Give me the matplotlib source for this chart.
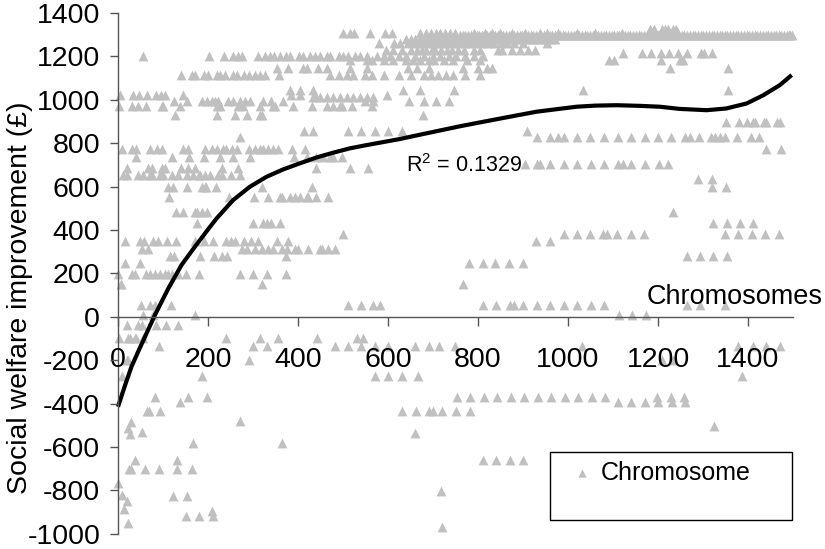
import matplotlib
matplotlib.use('Agg')
import matplotlib.pyplot as plt
from matplotlib.patches import Rectangle

plt.rcParams['font.family'] = ['Liberation Sans', 'DejaVu Sans']
plt.rcParams['mathtext.fontset'] = 'custom'
plt.rcParams['mathtext.rm'] = 'Liberation Sans'
plt.rcParams['mathtext.default'] = 'regular'
plt.rcParams['axes.unicode_minus'] = False

# [1] Chromosome rows: x values that sit on about the same y
x_1300 = [760, 766, 772, 778, 785, 790, 797, 803, 808, 815, 821, 827, 833, 838, 845, 851, 856, 862, 869, 875,
          880, 887, 893, 898, 905, 911, 917, 922, 929, 935, 941, 946, 953, 959, 965, 970, 977, 983, 989, 994,
          1001, 1007, 1013, 1018, 1025, 1031, 1037, 1042, 1049, 1055, 1061, 1066, 1073, 1079, 1085, 1090, 1097,
          1103, 1109, 1114, 1121, 1127, 1133, 1138, 1145, 1151, 1157, 1162, 1169, 1175, 1181, 1186, 1193, 1199,
          1205, 1210, 1217, 1223, 1229, 1234, 1241, 1247, 1253, 1258, 1265, 1271, 1277, 1282, 1289, 1295, 1301,
          1306, 1313, 1319, 1325, 1330, 1337, 1343, 1349, 1354, 1361, 1367, 1373, 1378, 1385, 1391, 1397, 1402,
          1409, 1415, 1421, 1426, 1433, 1439, 1445, 1450, 1457, 1463, 1469, 1474, 1481, 1486, 1490, 1494, 1497]
x_1310 = [849, 875, 904, 938, 953, 978, 672, 684, 695, 706, 716, 727, 738, 749, 790, 815, 831, 1020, 1060, 1120]
x_1330 = [1190, 1208, 1223, 1234, 1240, 1215, 1183]
x_1306 = [501, 516, 524, 561, 593, 608]
x_1280 = [640, 652, 660, 672, 680, 688, 694, 703, 712, 720, 729, 737, 746, 754, 763, 771, 779, 788, 796, 804,
          813, 821, 830, 838, 846, 855, 863, 872, 880, 889, 897, 906, 914, 923, 931, 940, 948, 956, 964, 972]
x_1260 = [579, 614, 627, 645, 655, 668, 676, 686, 699, 708, 720, 731, 744, 757, 770, 782, 795, 808, 822, 836, 850, 864, 880, 900, 953]
x_1230 = [596, 612, 630, 650, 664, 675, 684, 697, 705, 718, 730, 742, 756, 768, 790, 805, 845, 853, 875, 893, 912, 927]
x_1200 = [55, 202, 235, 256, 266, 276, 310, 327, 338, 347, 360, 373, 382, 403, 412, 427, 438, 449, 464, 471, 490, 501,
          512, 527, 538, 553, 575, 590, 604, 625, 640, 660, 680, 700, 715, 735, 752, 770, 790, 810]
x_1185 = [515, 553, 565, 590, 610, 640, 655, 672, 690, 702, 725, 745, 775, 804, 1091, 1102, 1207, 1249, 1256]
x_1145 = [353, 378, 412, 419, 445, 464, 515, 553, 645, 665, 690, 767, 801, 819, 830, 1227, 1356]
x_1113 = [141, 164, 170, 190, 199, 219, 227, 238, 256, 265, 280, 290, 304, 316, 327, 358, 471, 490, 508, 523, 549, 564,
          590, 625, 650, 680, 695, 712, 728, 745, 771, 804]
x_1217 = [1123, 1165, 1184, 1207, 1225, 1245, 1264, 1295, 1303, 1321]
x_1045 = [382, 404, 434, 634, 672, 747, 1033, 1356]
x_1021 = [4, 34, 47, 64, 84, 95, 104, 145, 384, 404, 597]
x_1014 = [434, 440, 449, 464, 478, 493, 508, 523, 538, 553, 567]
x_994 = [124, 154, 186, 197, 208, 216, 223, 245, 256, 271, 282, 293, 323, 341, 367, 549, 567, 647, 680, 706, 736]
x_970 = [2, 30, 45, 62, 97, 101, 138, 219, 227, 267, 278, 315, 345, 349, 388, 430, 464, 478, 493, 498, 521, 565]
x_930 = [127, 260, 286, 316, 321, 221, 678]
x_899 = [1351, 1381, 1397, 1416, 1436, 1465, 1412, 1441, 1471]
x_856 = [413, 434, 510, 541, 571, 601, 630, 908]
x_828 = [271, 930, 960, 978, 990, 1019, 1049, 1080, 1110, 1139, 1170, 1199, 1229, 1260, 1270, 1290, 1317, 1327, 1338, 1349, 1375, 1406, 1425]
x_775 = [8, 86, 30, 41, 71, 97, 145, 156, 193, 208, 219, 234, 241, 253, 264, 290, 304, 316, 323, 334, 345, 356, 387, 416, 1441, 1473]
x_737 = [40, 119, 158, 227, 190, 256, 293, 391, 419, 441, 456, 471, 478, 497]
x_704 = [904, 930, 938, 961, 992, 1021, 1051, 1081, 1110, 1123, 1141, 1171, 1202, 1223]
x_684 = [21, 67, 75, 97, 104, 141, 156, 171, 230, 267, 441, 515, 556]
x_655 = [12, 19, 56, 71, 101, 134, 153, 167, 179, 230, 44, 76, 93, 119, 182, 193, 204, 223, 250, 270]
x_634 = [1288, 1319]
x_600 = [123, 153, 186, 193, 319, 430, 112, 195, 218, 1321, 1350]
x_550 = [113, 247, 303, 334, 364, 382, 393, 419, 440, 467, 360, 404, 423]
x_484 = [129, 144, 170, 175, 186, 197, 1234]
x_434 = [175, 301, 323, 330, 339, 360, 1323, 1353, 1382, 1412]
x_380 = [501, 990, 1019, 1049, 1078, 1086, 1108, 1139, 1169, 1349, 1378, 1408, 1438, 1469]
x_350 = [16, 49, 58, 77, 88, 108, 128, 171, 190, 210, 240, 250, 260, 279, 295, 312, 353, 378, 929, 959]
x_310 = [53, 67, 275, 286, 304, 319, 334, 345, 364, 375, 393, 401, 423, 449, 453, 467, 482]
x_280 = [116, 124, 182, 213, 230, 243, 373, 1264, 1293, 1323, 1353]
x_246 = [16, 49, 780, 810, 838, 869, 899]
x_198 = [1, 32, 38, 62, 71, 82, 93, 104, 112, 119, 134, 151, 180, 270, 299, 330, 373]
x_150 = [319, 6, 766, 7]
x_52 = [50, 71, 82, 117, 510, 541, 567, 582, 810, 841, 871, 879, 901, 932, 961, 991, 1021, 1050, 1080, 1264, 1293, 1349]
x_10 = [56, 77, 171, 1113, 1143, 1173]
x_m40 = [19, 45, 53, 84, 106, 134]
x_m100 = [2, 23, 38, 56, 240, 316, 355, 443, 532, 545, 27, 41]
x_m135 = [301, 332, 482, 512, 541, 571, 601, 660, 690, 713, 749, 1030, 1378, 1412, 1440, 1471, 90]
x_m200 = [1208, 1234, 291, 23, 19]
x_m275 = [571, 601, 630, 1386, 8, 187, 666]
x_m372 = [753, 782, 813, 843, 873, 903, 933, 962, 993, 1023, 1053, 1082, 156, 197, 1198, 1228, 1258, 83]
x_m395 = [1110, 1140, 1171, 1201, 1230, 1260, 138]
x_m435 = [632, 662, 692, 701, 721, 751, 782, 64, 69, 93]
x_m580 = [167, 365]
x_m660 = [38, 130, 810, 840, 871, 901]
x_m700 = [28, 25, 60, 90, 132, 165]
x_m826 = [123, 153]
x_m918 = [150, 180, 210]

# y value of every row above, same order
row_y = [1298, 1308, 1328, 1306, 1280, 1260, 1230, 1201, 1185, 1145, 1113, 1217, 1045, 1021, 1014, 994, 970, 930, 899, 856, 828,
         775, 737, 704, 684, 655, 634, 600, 550, 484, 434, 380, 350, 310, 280, 246, 198, 150, 52, 10, -40, -100, -135,
         -200, -275, -372, -395, -435, -580, -660, -700, -826, -918]
row_x = [x_1300, x_1310, x_1330, x_1306, x_1280, x_1260, x_1230, x_1200, x_1185, x_1145, x_1113, x_1217, x_1045, x_1021, x_1014,
         x_994, x_970, x_930, x_899, x_856, x_828, x_775, x_737, x_704, x_684, x_655, x_634, x_600, x_550, x_484, x_434, x_380,
         x_350, x_310, x_280, x_246, x_198, x_150, x_52, x_10, x_m40, x_m100, x_m135, x_m200, x_m275, x_m372, x_m395, x_m435,
         x_m580, x_m660, x_m700, x_m826, x_m918]

# Lone points
stray_x = [28, 23, 27, 54, 271, 661, 1325, 1, 8, 19, 13, 23, 208, 718, 721]
stray_y = [-484, -514, -542, -533, -479, -534, -502, -768, -822, -848, -888, -952, -895, -801, -967]

# [2] Trend line
trend_x = [0, 15, 30, 45, 60, 82, 112, 141, 171, 201, 219, 256, 293, 330, 367, 404, 441, 478, 515, 552, 589, 626, 680, 760, 815,
           871, 930, 980, 1019, 1060, 1108, 1160, 1204, 1248, 1308, 1352, 1397, 1434, 1471, 1497]
trend_y = [-415, -320, -230, -160, -92, 8, 131, 238, 323, 405, 453, 538, 599, 645, 679, 707, 734, 756, 776, 791, 805, 819, 843, 878, 900,
           922, 945, 958, 968, 973, 975, 972, 968, 958, 952, 960, 983, 1021, 1068, 1114]

x_ticks = [0, 200, 400, 600, 800, 1000, 1200, 1400]
y_ticks = [-1000, -800, -600, -400, -200, 0, 200, 400, 600, 800, 1000, 1200, 1400]

gray = '#C0C0C0'
axis_gray = '#555555'

fig = plt.figure(figsize=(8.25, 5.49), dpi=100)
ax = fig.add_axes([118/825, 1-533.7/549, 675/825, 520.7/549])

# -------------------
# Points and trend
# -------------------
xs = list(stray_x)
ys = list(stray_y)
for y, row in zip(row_y, row_x):
    xs += row
    ys += [y]*len(row)
points = ax.scatter(xs, ys, marker='^', s=50, color=gray, linewidths=0, clip_on=False, zorder=1, label='Chromosome')
ax.plot(trend_x, trend_y, color='black', lw=3, solid_capstyle='butt', solid_joinstyle='round', zorder=2, clip_on=False)

# -------------------
# Axes
# -------------------
ax.set_xlim(0, 1500)
ax.set_ylim(-1000, 1400)
ax.set_xticks(x_ticks)
ax.set_yticks(y_ticks)
ax.spines['top'].set_visible(False)
ax.spines['right'].set_visible(False)
ax.spines['bottom'].set_position(('data', 0))
for s in ('left', 'bottom'):
    ax.spines[s].set_color(axis_gray)
    ax.spines[s].set_linewidth(1)
ax.set_axisbelow(False)
ax.tick_params(axis='x', direction='out', length=6.5, width=1, color=axis_gray, labelsize=20.5, pad=15)
ax.tick_params(axis='y', direction='out', length=5.8, width=1, color=axis_gray, labelsize=20.5, pad=7)
ax.set_ylabel('Social welfare improvement (£)', fontsize=20.5)
ax.yaxis.set_label_coords(33/825, 1-298/549, transform=fig.transFigure)

fig.text(823/825, 1-297/549, 'Chromosomes', ha='right', va='center', fontsize=19.5)
fig.text(406/825, 1-166/549, 'R$^2$ = 0.1329', ha='left', va='center', fontsize=15.5)

# -------------------
# Legend box
# -------------------
box = Rectangle((550/825, 1-520/549), 242/825, 68/549, transform=fig.transFigure, fill=False, edgecolor='black', lw=1)
fig.add_artist(box)
fig.legend(handles=[points], labels=['Chromosome'], loc='center left', bbox_to_anchor=(574/825, 1-473/549), frameon=False,
           fontsize=18, handlelength=0.6, handletextpad=0.48, markerscale=0.85, scatterpoints=1, borderpad=0, borderaxespad=0)

fig.savefig('out.png', dpi=100)
